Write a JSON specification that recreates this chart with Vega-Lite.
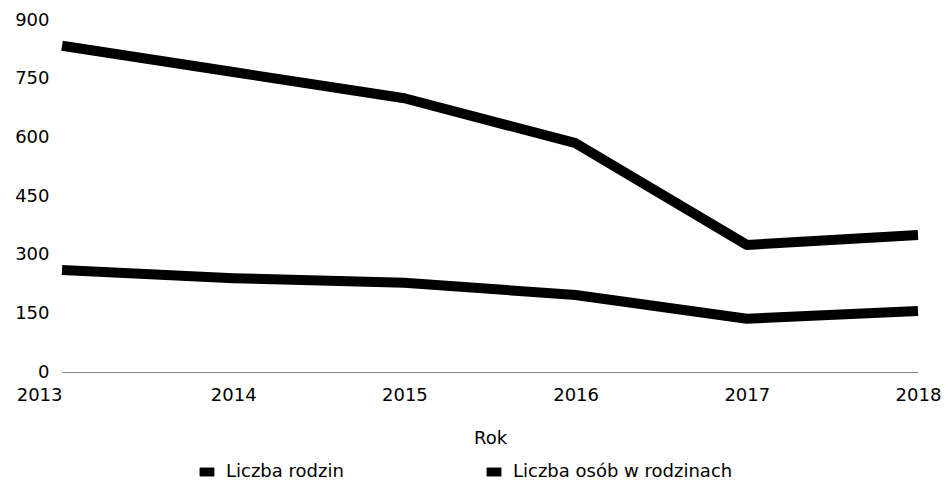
{
  "$schema": "https://vega.github.io/schema/vega-lite/v6.json",
  "width": 856,
  "height": 352,
  "autosize": {"type": "none"},
  "padding": {"left": 62, "top": 20, "right": 28, "bottom": 118},
  "background": "white",
  "config": {
    "view": {"stroke": null},
    "font": "DejaVu Sans",
    "axis": {"labelFont": "DejaVu Sans", "titleFont": "DejaVu Sans", "labelColor": "#000", "titleColor": "#000"},
    "legend": {"labelFont": "DejaVu Sans"}
  },
  "data": {
    "values": [
      {"Rok": "2013", "seria": "Liczba rodzin", "wartosc": 261},
      {"Rok": "2014", "seria": "Liczba rodzin", "wartosc": 240},
      {"Rok": "2015", "seria": "Liczba rodzin", "wartosc": 228},
      {"Rok": "2016", "seria": "Liczba rodzin", "wartosc": 197},
      {"Rok": "2017", "seria": "Liczba rodzin", "wartosc": 136},
      {"Rok": "2018", "seria": "Liczba rodzin", "wartosc": 156},
      {"Rok": "2013", "seria": "Liczba osób w rodzinach", "wartosc": 834},
      {"Rok": "2014", "seria": "Liczba osób w rodzinach", "wartosc": 767},
      {"Rok": "2015", "seria": "Liczba osób w rodzinach", "wartosc": 700},
      {"Rok": "2016", "seria": "Liczba osób w rodzinach", "wartosc": 585},
      {"Rok": "2017", "seria": "Liczba osób w rodzinach", "wartosc": 325},
      {"Rok": "2018", "seria": "Liczba osób w rodzinach", "wartosc": 350}
    ]
  },
  "mark": {"type": "line", "strokeWidth": 10, "strokeJoin": "round"},
  "encoding": {
    "x": {
      "field": "Rok",
      "type": "ordinal",
      "scale": {"type": "point", "padding": 0},
      "axis": {
        "title": "Rok",
        "labelAngle": 0,
        "ticks": false,
        "grid": false,
        "domain": true,
        "domainColor": "#888",
        "domainWidth": 1,
        "labelFontSize": 18,
        "labelPadding": 14,
        "labelAlign": {"condition": {"test": "datum.value == '2013'", "value": "right"}, "value": "center"},
        "titleFontSize": 18,
        "titleFontWeight": "normal",
        "titlePadding": 25
      }
    },
    "y": {
      "field": "wartosc",
      "type": "quantitative",
      "scale": {"domain": [0, 900]},
      "axis": {
        "title": null,
        "values": [0, 150, 300, 450, 600, 750, 900],
        "ticks": false,
        "grid": false,
        "domain": false,
        "labelFontSize": 18,
        "labelPadding": 13
      }
    },
    "color": {
      "field": "seria",
      "type": "nominal",
      "sort": ["Liczba rodzin", "Liczba osób w rodzinach"],
      "scale": {"domain": ["Liczba rodzin", "Liczba osób w rodzinach"], "range": ["#000", "#000"]},
      "legend": {
        "title": null,
        "orient": "none",
        "legendX": 136,
        "legendY": 443,
        "direction": "horizontal",
        "columns": 2,
        "columnPadding": 141,
        "symbolType": "M-1,-0.6H1V0.6H-1Z",
        "symbolSize": 220,
        "symbolStrokeWidth": 0,
        "symbolFillColor": "#000",
        "labelFontSize": 18,
        "labelColor": "#000",
        "labelOffset": 10,
        "labelLimit": 400
      }
    }
  }
}
